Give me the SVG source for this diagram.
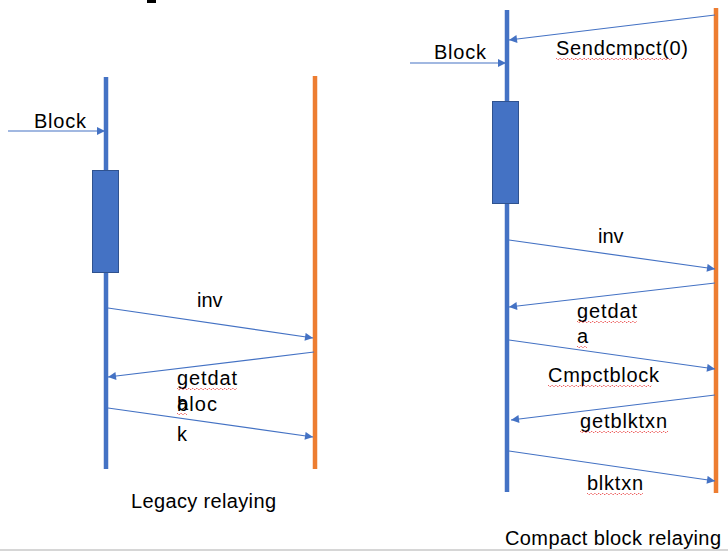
<svg xmlns="http://www.w3.org/2000/svg" width="728" height="553" viewBox="0 0 728 553">
<defs>
<marker id="ah" viewBox="0 0 10 10" refX="10" refY="5" markerWidth="10" markerHeight="8" markerUnits="userSpaceOnUse" orient="auto">
<path d="M0,0 L10,5 L0,10 z" fill="#4472C4"/>
</marker>
</defs>
<style>
.lb{stroke:#4472C4;stroke-width:4.5}
.lo{stroke:#ED7D31;stroke-width:4.5}
.box{fill:#4472C4;stroke:#2F528F;stroke-width:1}
.msg{stroke:#4472C4;stroke-width:1.2;fill:none;marker-end:url(#ah)}
text{font-family:"Liberation Sans",Arial,sans-serif;font-size:20px;fill:#000}
.sq{stroke:#E83A3A;stroke-width:0.8;fill:none;stroke-dasharray:2 1}
</style>
<rect x="0" y="0" width="728" height="553" fill="#fff"/>
<rect x="147" y="0" width="9" height="3" fill="#000"/>
<line x1="0" y1="550" x2="728" y2="550" stroke="#c8c8c8" stroke-width="1.5"/>

<g id="legacy-sender">
<line class="lb" x1="106" y1="77" x2="106" y2="469"/>
<rect class="box" x="92.5" y="170.5" width="26" height="102"/>
</g>
<g id="legacy-receiver">
<line class="lo" x1="315" y1="76" x2="315" y2="469"/>
</g>
<g id="compact-sender">
<line class="lb" x1="507" y1="10" x2="507" y2="492"/>
<rect class="box" x="492.5" y="101.5" width="26" height="102"/>
</g>
<g id="compact-receiver">
<line class="lo" x1="716" y1="8" x2="716" y2="493"/>
</g>

<g id="connectors">
<line class="msg" x1="8" y1="131" x2="105" y2="131"/>
<line class="msg" x1="108" y1="308" x2="313" y2="338"/>
<line class="msg" x1="314" y1="352" x2="108" y2="377"/>
<line class="msg" x1="108" y1="408" x2="313" y2="437"/>
<line class="msg" x1="410" y1="63" x2="506" y2="63"/>
<line class="msg" x1="715" y1="15" x2="509" y2="40"/>
<line class="msg" x1="509" y1="240" x2="715" y2="269"/>
<line class="msg" x1="715" y1="283" x2="509" y2="307"/>
<line class="msg" x1="509" y1="340" x2="715" y2="369"/>
<line class="msg" x1="715" y1="395" x2="511" y2="420"/>
<line class="msg" x1="509" y1="451" x2="715" y2="481"/>
</g>

<g id="labels">
<text x="34" y="128" textLength="52">Block</text>
<text x="197" y="307">inv</text>
<text x="177" y="385" textLength="60">getdat</text>
<text x="177" y="410">a</text>
<text x="177" y="411" textLength="40">bloc</text>
<text x="177" y="441">k</text>
<text x="131" y="508" textLength="145">Legacy relaying</text>

<text x="434" y="59" textLength="52">Block</text>
<text x="556" y="55" textLength="132">Sendcmpct(0)</text>
<text x="598" y="243">inv</text>
<text x="577" y="318" textLength="60">getdat</text>
<text x="577" y="343">a</text>
<text x="548" y="382" textLength="111">Cmpctblock</text>
<text x="580" y="428" textLength="87">getblktxn</text>
<text x="587" y="490" textLength="56">blktxn</text>
<text x="505" y="545" textLength="216">Compact block relaying</text>
</g>

<g id="spell-marks">
<path class="sq" d="M177,388 l2,2 l2,-2 l2,2 l2,-2 l2,2 l2,-2 l2,2 l2,-2 l2,2 l2,-2 l2,2 l2,-2 l2,2 l2,-2 l2,2 l2,-2 l2,2 l2,-2 l2,2 l2,-2 l2,2 l2,-2 l2,2 l2,-2 l2,2 l2,-2 l2,2 l2,-2 l2,2 l2,-2"/>
<path class="sq" d="M177,413 l2,2 l2,-2 l2,2 l2,-2 l2,2"/>
<path class="sq" d="M556,58 l2,2 l2,-2 l2,2 l2,-2 l2,2 l2,-2 l2,2 l2,-2 l2,2 l2,-2 l2,2 l2,-2 l2,2 l2,-2 l2,2 l2,-2 l2,2 l2,-2 l2,2 l2,-2 l2,2 l2,-2 l2,2 l2,-2 l2,2 l2,-2 l2,2 l2,-2 l2,2 l2,-2 l2,2 l2,-2 l2,2 l2,-2 l2,2 l2,-2 l2,2 l2,-2 l2,2 l2,-2 l2,2 l2,-2 l2,2 l2,-2 l2,2 l2,-2 l2,2 l2,-2 l2,2 l2,-2 l2,2 l2,-2 l2,2 l2,-2 l2,2 l2,-2 l2,2 l2,-2"/>
<path class="sq" d="M577,321 l2,2 l2,-2 l2,2 l2,-2 l2,2 l2,-2 l2,2 l2,-2 l2,2 l2,-2 l2,2 l2,-2 l2,2 l2,-2 l2,2 l2,-2 l2,2 l2,-2 l2,2 l2,-2 l2,2 l2,-2 l2,2 l2,-2 l2,2 l2,-2 l2,2 l2,-2 l2,2 l2,-2"/>
<path class="sq" d="M577,346 l2,2 l2,-2 l2,2 l2,-2 l2,2"/>
<path class="sq" d="M548,385 l2,2 l2,-2 l2,2 l2,-2 l2,2 l2,-2 l2,2 l2,-2 l2,2 l2,-2 l2,2 l2,-2 l2,2 l2,-2 l2,2 l2,-2 l2,2 l2,-2 l2,2 l2,-2 l2,2 l2,-2 l2,2 l2,-2 l2,2 l2,-2 l2,2 l2,-2 l2,2 l2,-2 l2,2 l2,-2 l2,2 l2,-2 l2,2 l2,-2 l2,2 l2,-2 l2,2 l2,-2 l2,2 l2,-2 l2,2 l2,-2 l2,2 l2,-2 l2,2 l2,-2 l2,2 l2,-2 l2,2 l2,-2"/>
<path class="sq" d="M580,431 l2,2 l2,-2 l2,2 l2,-2 l2,2 l2,-2 l2,2 l2,-2 l2,2 l2,-2 l2,2 l2,-2 l2,2 l2,-2 l2,2 l2,-2 l2,2 l2,-2 l2,2 l2,-2 l2,2 l2,-2 l2,2 l2,-2 l2,2 l2,-2 l2,2 l2,-2 l2,2 l2,-2 l2,2 l2,-2 l2,2 l2,-2 l2,2 l2,-2 l2,2 l2,-2 l2,2 l2,-2 l2,2 l2,-2 l2,2 l2,-2"/>
<path class="sq" d="M587,493 l2,2 l2,-2 l2,2 l2,-2 l2,2 l2,-2 l2,2 l2,-2 l2,2 l2,-2 l2,2 l2,-2 l2,2 l2,-2 l2,2 l2,-2 l2,2 l2,-2 l2,2 l2,-2 l2,2 l2,-2 l2,2 l2,-2 l2,2 l2,-2 l2,2 l2,-2"/>
</g>
</svg>
